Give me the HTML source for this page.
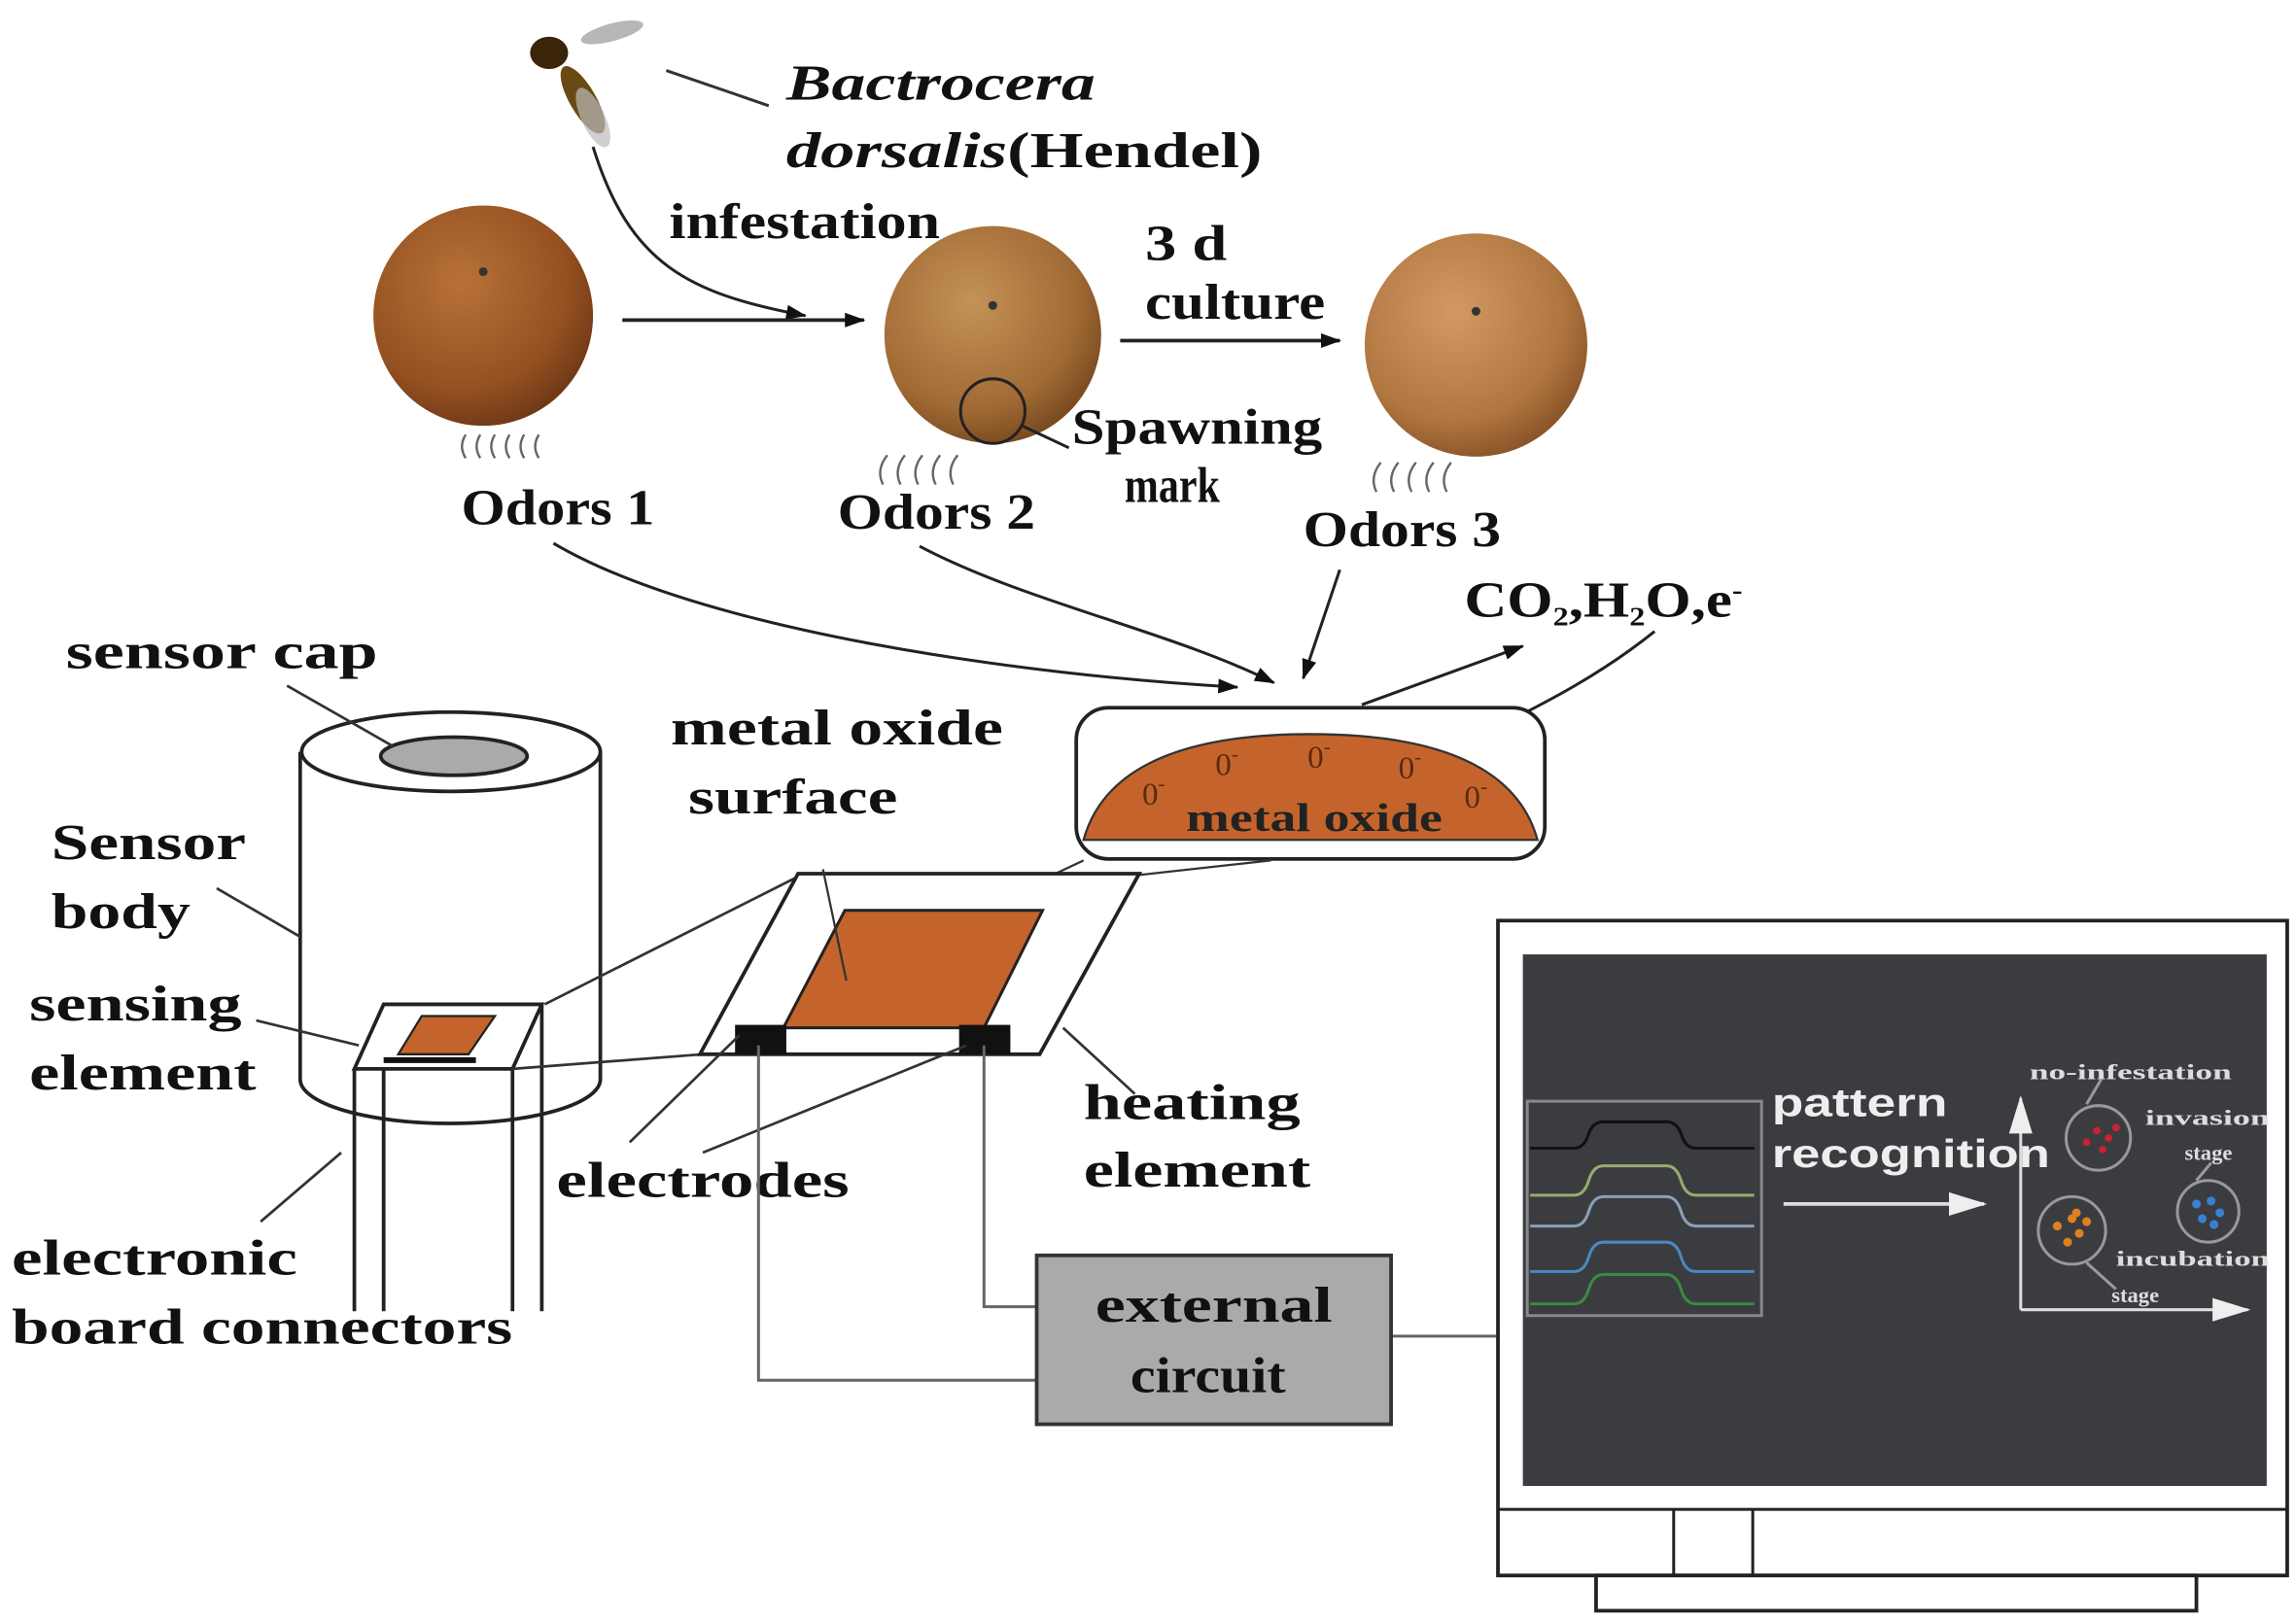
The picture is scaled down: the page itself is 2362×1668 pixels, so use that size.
<!DOCTYPE html>
<html><head><meta charset="utf-8"><style>
html,body{margin:0;padding:0;background:#fff;}
svg{display:block;}
.t{font-family:"Liberation Serif",serif;font-weight:bold;font-size:34px;fill:#111;}
</style></head><body>
<svg width="2362" height="1668" viewBox="0 0 1568 1104" preserveAspectRatio="none" xmlns="http://www.w3.org/2000/svg">
<defs>
<radialGradient id="o1" cx="0.4" cy="0.35" r="0.7"><stop offset="0" stop-color="#b87238"/><stop offset="0.7" stop-color="#945020"/><stop offset="1" stop-color="#6a3616"/></radialGradient>
<radialGradient id="o2" cx="0.4" cy="0.35" r="0.7"><stop offset="0" stop-color="#c49256"/><stop offset="0.7" stop-color="#a06a34"/><stop offset="1" stop-color="#74461e"/></radialGradient>
<radialGradient id="o3" cx="0.4" cy="0.35" r="0.7"><stop offset="0" stop-color="#d29a62"/><stop offset="0.7" stop-color="#b07640"/><stop offset="1" stop-color="#845026"/></radialGradient>
<marker id="ah" markerWidth="14" markerHeight="10" refX="13" refY="5" orient="auto" markerUnits="userSpaceOnUse"><path d="M0,0 L14,5 L0,10 Z" fill="#111"/></marker>
<marker id="wh" markerWidth="26" markerHeight="16" refX="24" refY="8" orient="auto" markerUnits="userSpaceOnUse"><path d="M0,0 L26,8 L0,16 Z" fill="#eee"/></marker>
</defs>

<!-- fly -->
<g>
<ellipse cx="418" cy="22" rx="22" ry="6" fill="#999" opacity="0.7" transform="rotate(-15 418 22)"/>
<ellipse cx="398" cy="68" rx="9" ry="26" fill="#6a4a14" transform="rotate(-30 398 68)"/>
<ellipse cx="375" cy="36" rx="13" ry="11" fill="#3a2508"/>
<ellipse cx="405" cy="80" rx="8" ry="22" fill="#bbb" opacity="0.7" transform="rotate(-25 405 80)"/>
</g>
<line x1="455" y1="48" x2="525" y2="72" stroke="#333" stroke-width="2"/>
<text class="t" x="537" y="68" font-style="italic" textLength="211" lengthAdjust="spacingAndGlyphs">Bactrocera</text>
<text class="t" x="537" y="114" textLength="325" lengthAdjust="spacingAndGlyphs"><tspan font-style="italic">dorsalis</tspan>(Hendel)</text>
<path d="M405,100 C430,180 470,200 550,215" fill="none" stroke="#222" stroke-width="2" marker-end="url(#ah)"/>
<text class="t" x="457" y="162" textLength="185" lengthAdjust="spacingAndGlyphs">infestation</text>

<!-- oranges -->
<circle cx="330" cy="215" r="75" fill="url(#o1)"/>
<circle cx="678" cy="228" r="74" fill="url(#o2)"/>
<circle cx="1008" cy="235" r="76" fill="url(#o3)"/>
<circle cx="330" cy="185" r="3" fill="#333"/><circle cx="678" cy="208" r="3" fill="#333"/><circle cx="1008" cy="212" r="3" fill="#333"/>
<line x1="425" y1="218" x2="590" y2="218" stroke="#222" stroke-width="2.5" marker-end="url(#ah)"/>
<line x1="765" y1="232" x2="915" y2="232" stroke="#222" stroke-width="2.5" marker-end="url(#ah)"/>
<text class="t" x="782" y="177" textLength="56" lengthAdjust="spacingAndGlyphs">3  d</text>
<text class="t" x="782" y="217" textLength="123" lengthAdjust="spacingAndGlyphs">culture</text>
<circle cx="678" cy="280" r="22" fill="none" stroke="#222" stroke-width="2"/>
<line x1="698" y1="290" x2="730" y2="305" stroke="#222" stroke-width="2"/>
<text class="t" x="732" y="302" textLength="171" lengthAdjust="spacingAndGlyphs">Spawning</text>
<text class="t" x="768" y="342" textLength="65" lengthAdjust="spacingAndGlyphs">mark</text>

<!-- odor squiggles -->
<g fill="none" stroke="#666" stroke-width="1.6">
<path d="M318,312 q-5,-8 0,-16"/><path d="M328,312 q-5,-8 0,-16"/><path d="M338,312 q-5,-8 0,-16"/><path d="M348,312 q-5,-8 0,-16"/><path d="M358,312 q-5,-8 0,-16"/><path d="M368,312 q-5,-8 0,-16"/>
<path d="M603,330 q-5,-10 3,-20"/><path d="M615,330 q-5,-10 3,-20"/><path d="M627,330 q-5,-10 3,-20"/><path d="M639,330 q-5,-10 3,-20"/><path d="M651,330 q-5,-10 3,-20"/>
<path d="M940,335 q-5,-10 3,-20"/><path d="M952,335 q-5,-10 3,-20"/><path d="M964,335 q-5,-10 3,-20"/><path d="M976,335 q-5,-10 3,-20"/><path d="M988,335 q-5,-10 3,-20"/>
</g>
<text class="t" x="315" y="357" textLength="132" lengthAdjust="spacingAndGlyphs">Odors 1</text>
<text class="t" x="572" y="360" textLength="135" lengthAdjust="spacingAndGlyphs">Odors 2</text>
<text class="t" x="890" y="372" textLength="135" lengthAdjust="spacingAndGlyphs">Odors 3</text>
<path d="M378,370 C480,430 700,460 845,468" fill="none" stroke="#222" stroke-width="2" marker-end="url(#ah)"/>
<path d="M628,372 C700,410 800,430 870,465" fill="none" stroke="#222" stroke-width="2" marker-end="url(#ah)"/>
<line x1="915" y1="388" x2="890" y2="462" stroke="#222" stroke-width="2" marker-end="url(#ah)"/>
<line x1="930" y1="480" x2="1040" y2="440" stroke="#222" stroke-width="2" marker-end="url(#ah)"/>
<path d="M1130,430 C1080,470 1030,490 990,512" fill="none" stroke="#222" stroke-width="2" marker-end="url(#ah)"/>
<text class="t" x="1000" y="420" textLength="190" lengthAdjust="spacingAndGlyphs">CO<tspan font-size="18" dy="6">2</tspan><tspan dy="-6">,H</tspan><tspan font-size="18" dy="6">2</tspan><tspan dy="-6">O,e</tspan><tspan font-size="18" dy="-12">-</tspan></text>

<!-- dish -->
<rect x="735" y="482" width="320" height="103" rx="22" fill="#fff" stroke="#222" stroke-width="2.5"/>
<path d="M740,572 Q760,500 895,500 Q1030,500 1050,572 Z" fill="#c4642c" stroke="#333" stroke-width="1.5"/>
<g font-family="Liberation Serif,serif" font-size="22" fill="#5a2a10">
<text x="780" y="548">0<tspan font-size="14" dy="-10">-</tspan></text>
<text x="830" y="528">0<tspan font-size="14" dy="-10">-</tspan></text>
<text x="893" y="523">0<tspan font-size="14" dy="-10">-</tspan></text>
<text x="955" y="530">0<tspan font-size="14" dy="-10">-</tspan></text>
<text x="1000" y="550">0<tspan font-size="14" dy="-10">-</tspan></text>
</g>
<text x="810" y="566" font-family="Liberation Serif,serif" font-weight="bold" font-size="27" fill="#222" textLength="175" lengthAdjust="spacingAndGlyphs">metal oxide</text>
<line x1="777" y1="596" x2="868" y2="586" stroke="#333" stroke-width="1.5"/>
<line x1="642" y1="632" x2="740" y2="586" stroke="#333" stroke-width="1.5"/>

<!-- sensor cylinder -->
<path d="M205,512 L205,735 A102,30 0 0 0 410,735 L410,512" fill="#fff" stroke="#222" stroke-width="2.5"/>
<ellipse cx="308" cy="512" rx="102" ry="27" fill="#fff" stroke="#222" stroke-width="2.5"/>
<ellipse cx="310" cy="515" rx="50" ry="13" fill="#aaa" stroke="#222" stroke-width="2.5"/>
<line x1="196" y1="467" x2="268" y2="508" stroke="#333" stroke-width="1.8"/>
<text class="t" x="45" y="455" textLength="213" lengthAdjust="spacingAndGlyphs">sensor  cap</text>
<text class="t" x="35" y="585" textLength="133" lengthAdjust="spacingAndGlyphs">Sensor</text>
<text class="t" x="35" y="632" textLength="95" lengthAdjust="spacingAndGlyphs">body</text>
<line x1="148" y1="605" x2="205" y2="638" stroke="#333" stroke-width="1.8"/>
<text class="t" x="20" y="695" textLength="145" lengthAdjust="spacingAndGlyphs">sensing</text>
<text class="t" x="20" y="742" textLength="155" lengthAdjust="spacingAndGlyphs">element</text>
<line x1="175" y1="695" x2="245" y2="712" stroke="#333" stroke-width="1.8"/>
<text class="t" x="8" y="868" textLength="195" lengthAdjust="spacingAndGlyphs">electronic</text>
<text class="t" x="8" y="915" textLength="342" lengthAdjust="spacingAndGlyphs">board connectors</text>
<line x1="178" y1="832" x2="233" y2="785" stroke="#333" stroke-width="1.8"/>
<!-- sensing element box -->
<path d="M262,684 L370,684 L350,728 L242,728 Z" fill="#fff" stroke="#222" stroke-width="2.5"/>
<path d="M288,692 L338,692 L320,718 L272,718 Z" fill="#c4642c" stroke="#222" stroke-width="1.5"/>
<line x1="262" y1="722" x2="325" y2="722" stroke="#111" stroke-width="4"/>
<g stroke="#222" stroke-width="2.5" fill="none">
<line x1="242" y1="728" x2="242" y2="893"/>
<line x1="262" y1="728" x2="262" y2="893"/>
<line x1="350" y1="728" x2="350" y2="893"/>
<line x1="370" y1="684" x2="370" y2="893"/>
</g>
<line x1="372" y1="684" x2="545" y2="597" stroke="#333" stroke-width="1.8"/>
<line x1="350" y1="728" x2="480" y2="718" stroke="#333" stroke-width="1.8"/>

<!-- big plate -->
<path d="M545,595 L778,595 L710,718 L478,718 Z" fill="#fff" stroke="#222" stroke-width="2.5"/>
<path d="M577,620 L712,620 L672,700 L535,700 Z" fill="#c4642c" stroke="#222" stroke-width="2"/>
<rect x="502" y="698" width="35" height="20" fill="#111"/>
<rect x="655" y="698" width="35" height="20" fill="#111"/>
<line x1="562" y1="592" x2="578" y2="668" stroke="#333" stroke-width="1.5"/>
<text class="t" x="458" y="507" textLength="227" lengthAdjust="spacingAndGlyphs">metal oxide</text>
<text class="t" x="470" y="554" textLength="143" lengthAdjust="spacingAndGlyphs">surface</text>
<line x1="726" y1="700" x2="775" y2="745" stroke="#333" stroke-width="1.8"/>
<text class="t" x="740" y="762" textLength="148" lengthAdjust="spacingAndGlyphs">heating</text>
<text class="t" x="740" y="808" textLength="155" lengthAdjust="spacingAndGlyphs">element</text>
<line x1="430" y1="778" x2="505" y2="705" stroke="#333" stroke-width="1.8"/>
<line x1="480" y1="785" x2="660" y2="712" stroke="#333" stroke-width="1.8"/>
<text class="t" x="380" y="815" textLength="200" lengthAdjust="spacingAndGlyphs">electrodes</text>

<!-- wires -->
<g stroke="#666" stroke-width="2" fill="none">
<polyline points="518,712 518,940 708,940"/>
<polyline points="672,712 672,890 708,890"/>
<line x1="950" y1="910" x2="1025" y2="910"/>
</g>
<rect x="708" y="855" width="242" height="115" fill="#aaa" stroke="#333" stroke-width="2.5"/>
<text class="t" x="748" y="900" textLength="162" lengthAdjust="spacingAndGlyphs">external</text>
<text class="t" x="772" y="948" textLength="106" lengthAdjust="spacingAndGlyphs">circuit</text>

<!-- monitor -->
<rect x="1023" y="627" width="539" height="446" fill="#fff" stroke="#222" stroke-width="2.5"/>
<rect x="1040" y="650" width="508" height="362" fill="#3b3c40"/>
<line x1="1023" y1="1028" x2="1562" y2="1028" stroke="#222" stroke-width="2"/>
<line x1="1143" y1="1028" x2="1143" y2="1073" stroke="#222" stroke-width="2"/>
<line x1="1197" y1="1028" x2="1197" y2="1073" stroke="#222" stroke-width="2"/>
<rect x="1090" y="1073" width="410" height="24" fill="#fff" stroke="#222" stroke-width="2.5"/>
<rect x="1043" y="750" width="160" height="146" fill="none" stroke="#888" stroke-width="2"/>
<g fill="none" stroke-width="2">
<path d="M1045,782 H1075 Q1082,782 1085,772 Q1088,764 1095,764 H1138 Q1145,764 1148,772 Q1151,782 1158,782 H1198" stroke="#111"/>
<path d="M1045,814 H1075 Q1082,814 1085,804 Q1088,794 1095,794 H1138 Q1145,794 1148,804 Q1151,814 1158,814 H1198" stroke="#9aaa70"/>
<path d="M1045,835 H1075 Q1082,835 1085,825 Q1088,815 1095,815 H1138 Q1145,815 1148,825 Q1151,835 1158,835 H1198" stroke="#8aa0b8"/>
<path d="M1045,866 H1075 Q1082,866 1085,856 Q1088,846 1095,846 H1138 Q1145,846 1148,856 Q1151,866 1158,866 H1198" stroke="#4a88c0"/>
<path d="M1045,888 H1075 Q1082,888 1085,878 Q1088,868 1095,868 H1138 Q1145,868 1148,878 Q1151,888 1158,888 H1198" stroke="#3a8a40"/>
</g>
<text x="1210" y="760" font-family="Liberation Sans,sans-serif" font-weight="bold" font-size="27" fill="#eee" textLength="120" lengthAdjust="spacingAndGlyphs">pattern</text>
<text x="1210" y="795" font-family="Liberation Sans,sans-serif" font-weight="bold" font-size="27" fill="#eee" textLength="190" lengthAdjust="spacingAndGlyphs">recognition</text>
<line x1="1218" y1="820" x2="1355" y2="820" stroke="#ddd" stroke-width="2.5" marker-end="url(#wh)"/>
<line x1="1380" y1="892" x2="1380" y2="748" stroke="#ddd" stroke-width="2" marker-end="url(#wh)"/>
<line x1="1380" y1="892" x2="1535" y2="892" stroke="#ddd" stroke-width="2" marker-end="url(#wh)"/>
<g font-family="Liberation Serif,serif" font-weight="bold" font-size="15" fill="#ddd">
<text x="1386" y="735" textLength="138" lengthAdjust="spacingAndGlyphs">no-infestation</text>
<text x="1465" y="766" textLength="85" lengthAdjust="spacingAndGlyphs">invasion</text>
<text x="1492" y="790">stage</text>
<text x="1445" y="862" textLength="105" lengthAdjust="spacingAndGlyphs">incubation</text>
<text x="1442" y="887">stage</text>
</g>
<g stroke="#999" stroke-width="2" fill="none">
<circle cx="1433" cy="775" r="22"/>
<circle cx="1508" cy="825" r="21"/>
<circle cx="1415" cy="838" r="23"/>
<line x1="1425" y1="752" x2="1435" y2="735"/>
<line x1="1500" y1="804" x2="1510" y2="792"/>
<line x1="1425" y1="860" x2="1445" y2="878"/>
</g>
<g fill="#d02030"><circle cx="1425" cy="778" r="2.5"/><circle cx="1432" cy="770" r="2.5"/><circle cx="1440" cy="775" r="2.5"/><circle cx="1436" cy="783" r="2.5"/><circle cx="1445" cy="768" r="2.5"/></g>
<g fill="#3a80d0"><circle cx="1500" cy="820" r="3"/><circle cx="1510" cy="818" r="3"/><circle cx="1516" cy="826" r="3"/><circle cx="1504" cy="830" r="3"/><circle cx="1512" cy="834" r="3"/></g>
<g fill="#e08020"><circle cx="1405" cy="835" r="3"/><circle cx="1415" cy="830" r="3"/><circle cx="1420" cy="840" r="3"/><circle cx="1412" cy="846" r="3"/><circle cx="1425" cy="832" r="3"/><circle cx="1418" cy="826" r="3"/></g>
</svg>
</body></html>
